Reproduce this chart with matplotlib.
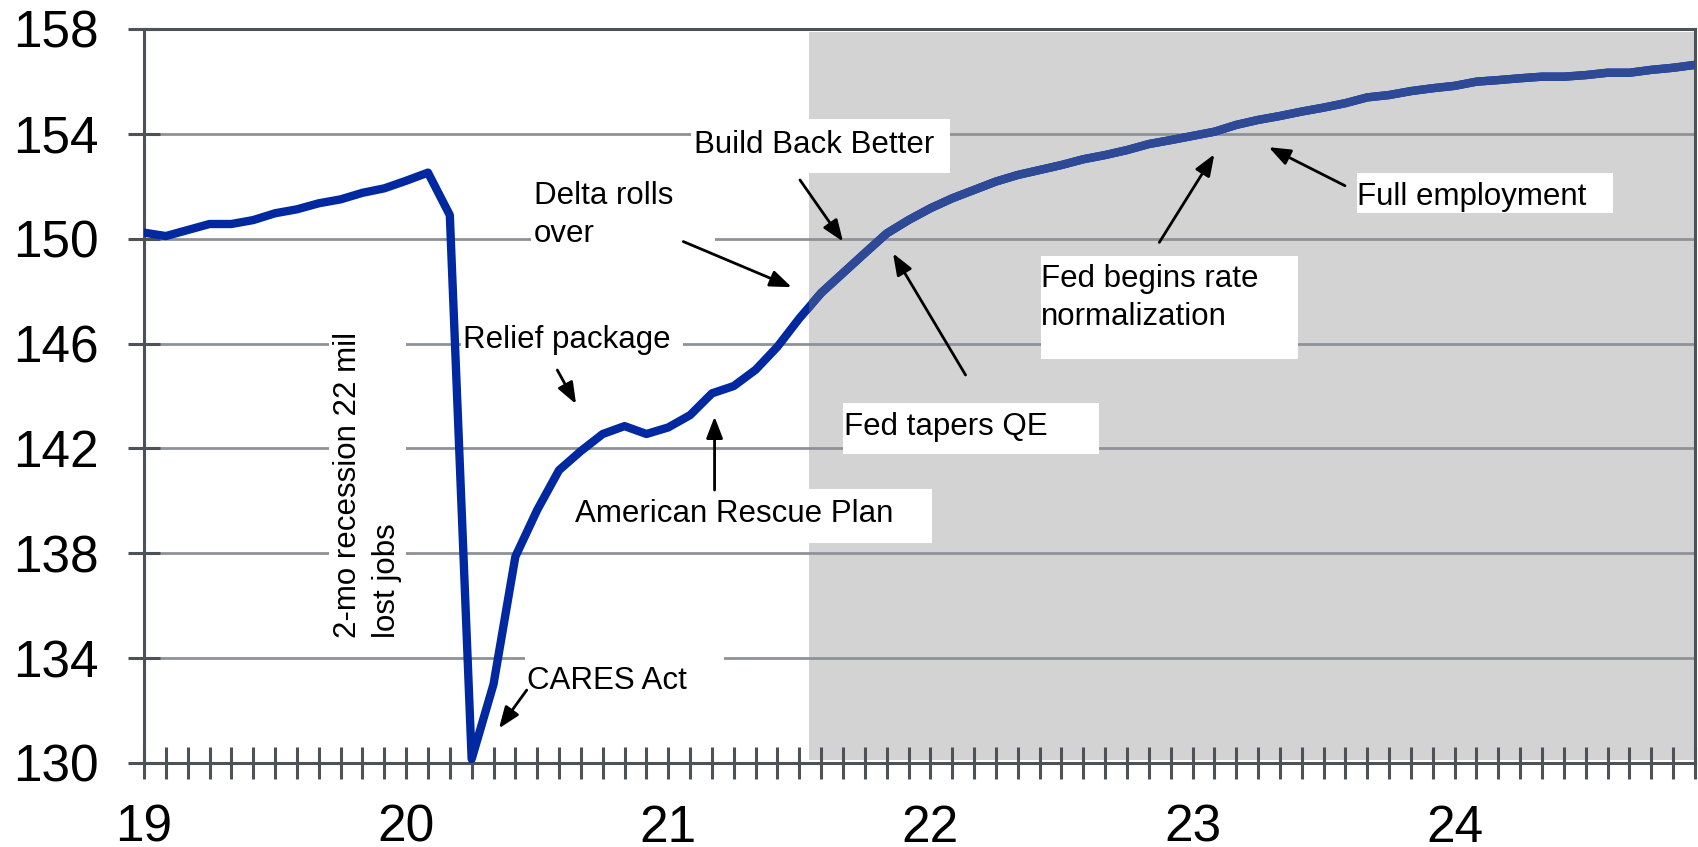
import numpy as np
import matplotlib.pyplot as plt
from matplotlib.patches import Rectangle

plt.rcParams['font.family'] = ['Liberation Sans', 'DejaVu Sans']

# payroll employment, millions, monthly Jan 2019 - Dec 2024
payrolls = [
    150.23, 150.10, 150.33, 150.56, 150.56, 150.71, 150.97, 151.12, 151.35, 151.50, 151.75, 151.92,
    152.21, 152.52, 150.90, 130.15, 133.00, 137.87, 139.65, 141.17, 141.90, 142.55, 142.85, 142.55,
    142.80, 143.27, 144.10, 144.38, 145.00, 145.88, 146.96, 147.93, 148.69, 149.45, 150.20, 150.71,
    151.16, 151.54, 151.86, 152.18, 152.43, 152.62, 152.81, 153.03, 153.19, 153.38, 153.61, 153.76,
    153.92, 154.08, 154.34, 154.53, 154.68, 154.85, 155.00, 155.17, 155.39, 155.48, 155.63, 155.74,
    155.83, 155.99, 156.05, 156.12, 156.18, 156.18, 156.24, 156.33, 156.33, 156.44, 156.52, 156.63,
]
year_labels = ['19', '20', '21', '22', '23', '24']
y_ticks = [130, 134, 138, 142, 146, 150, 154, 158]
forecast_start = 30.43  # month index where the shaded forecast begins

months = np.arange(len(payrolls))

# (box x0, y0, x1, y1), text lines (x, baseline y, text), arrow (tail, head)
notes = [
    ((25.04, 152.51, 36.90, 154.57), [(25.18, 153.27, 'Build Back Better')],
     ((30.03, 152.24), (32.00, 149.89))),
    ((17.72, 149.26, 26.14, 152.70), [(17.85, 151.32, 'Delta rolls'), (17.85, 149.87, 'over')],
     ((24.69, 149.89), (29.65, 148.15))),
    ((14.51, 145.18, 24.67, 147.09), [(14.60, 145.83, 'Relief package')],
     ((18.92, 144.99), (19.78, 143.69))),
    ((17.44, 132.21, 26.55, 134.50), [(17.53, 132.82, 'CARES Act')],
     ((17.52, 132.78), (16.25, 131.32))),
    ((19.50, 138.39, 36.09, 140.45), [(19.73, 139.19, 'American Rescue Plan')],
     ((26.12, 140.41), (26.12, 143.21))),
    ((32.00, 141.79, 43.70, 143.73), [(32.04, 142.51, 'Fed tapers QE')],
     ((37.61, 144.80), (34.29, 149.44))),
    ((41.06, 145.41, 52.83, 149.34), [(41.06, 148.16, 'Fed begins rate'), (41.06, 146.71, 'normalization')],
     ((46.48, 149.86), (49.00, 153.22))),
    ((55.53, 150.98, 67.25, 152.51), [(55.53, 151.29, 'Full employment')],
     ((54.98, 152.02), (51.49, 153.49))),
]

fig = plt.figure(figsize=(16.98, 8.47), dpi=100)
ax = fig.add_axes([0.0848, 0.0992, 0.9134, 0.8666])
ax.set_xlim(0, len(payrolls) - 1)
ax.set_ylim(130, 158)

shade = Rectangle((forecast_start, 130.1), months[-1] - forecast_start, 157.9 - 130.1,
                  fc='#d3d3d3', ec='none', zorder=0.5)
ax.add_patch(shade)

for v in y_ticks[1:-1]:
    ax.axhline(v, color='#8e9297', lw=2, zorder=1)

# white text boxes
for (x0, y0, x1, y1), lines, arrow in notes:
    ax.add_patch(Rectangle((x0, y0), x1 - x0, y1 - y0, fc='white', ec='none', zorder=2))
ax.add_patch(Rectangle((8.47, 134.69), 11.99 - 8.47, 146.90 - 134.69, fc='white', ec='none', zorder=2))

ax.plot(months, payrolls, color='#0028a0', lw=6, solid_joinstyle='round', zorder=3)
fc_line, = ax.plot(months, payrolls, color='#2e4a97', lw=6, solid_joinstyle='round', zorder=3.1)
fc_line.set_clip_path(shade)

for box, lines, (tail, head) in notes:
    for x, y, s in lines:
        ax.text(x, y, s, fontsize=22.5, ha='left', va='baseline', zorder=5)
    ax.annotate('', xy=head, xytext=tail, zorder=4,
                arrowprops=dict(arrowstyle='-|>,head_length=0.65,head_width=0.25',
                                color='black', lw=2, shrinkA=0, shrinkB=0, mutation_scale=20))

ax.text(9.34, 134.77, '2-mo recession 22 mil', rotation=90, fontsize=22.5,
        ha='center', va='bottom', zorder=5)
ax.text(11.12, 134.77, 'lost jobs', rotation=90, fontsize=22.5,
        ha='center', va='bottom', zorder=5)

ax.set_xticks(months)
ax.set_xticklabels([year_labels[i // 12] if i % 12 == 0 else '' for i in months])
ax.set_yticks(y_ticks)
ax.tick_params(axis='both', direction='inout', length=22.7, width=2.2, color='#4d5257',
               labelsize=37)
ax.tick_params(axis='x', pad=18)
ax.tick_params(axis='y', pad=21)
for sp in ax.spines.values():
    sp.set_color('#4d5257')
    sp.set_linewidth(2.2)

fig.savefig('out.png', dpi=100)
